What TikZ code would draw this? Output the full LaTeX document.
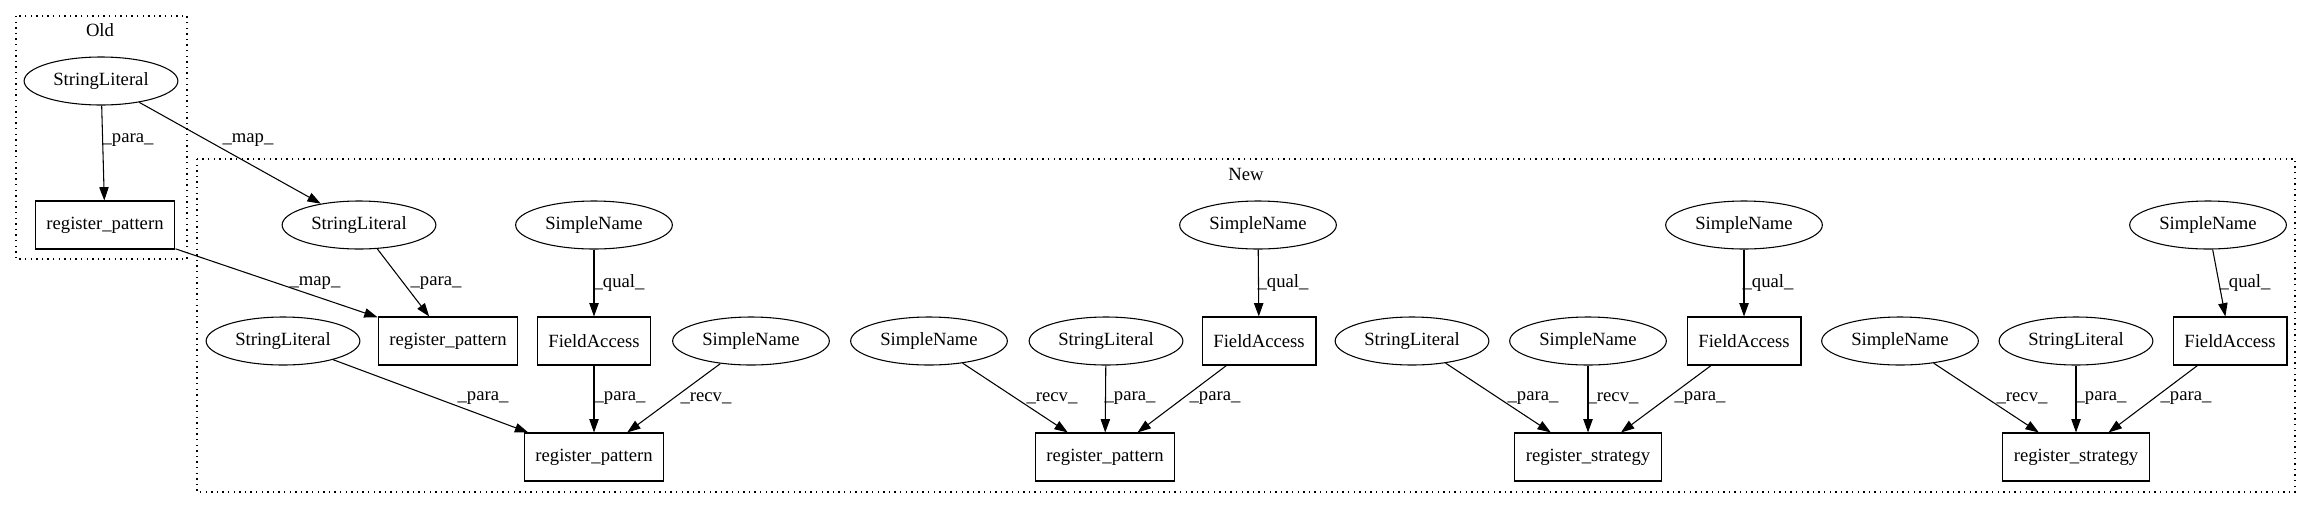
\documentclass[tikz,border=0pt]{standalone}
\usepackage{fontspec}
\setmainfont{Liberation Serif}
\usetikzlibrary{shapes.geometric,arrows.meta}
\begin{document}
\begin{tikzpicture}[x=0.75pt,y=-0.75pt,
	every node/.style={font=\fontsize{14pt}{16pt}\selectfont},
	ell/.style={draw,ellipse,line width=0.8pt,inner xsep=5pt,inner ysep=0pt,minimum height=36pt},
	box/.style={draw,rectangle,line width=0.8pt,inner xsep=8.5pt,minimum height=36pt},
	edge/.style={line width=0.8pt,-{Triangle[length=10pt,width=7pt]}},
	clust/.style={line width=0.8pt,dash pattern=on 1pt off 3.2pt},
	lbl/.style={inner sep=0pt}]
		\useasboundingbox (0,0) rectangle (2312,508);
		% clusters
		\draw[clust] (16,16) rectangle (187,259);
		\node[lbl] (old) at (100,30) {Old};
		\draw[clust] (197,159) rectangle (2295,492);
		\node[lbl] (new) at (1246,174) {New};
		% Old
		\node[ell] (oldlit) at (101,81) {StringLiteral};
		\node[box] (oldreg) at (105,225) {register\_pattern};
		% New, first group
		\node[ell] (litA) at (359,225) {StringLiteral};
		\node[box] (regA) at (448,341) {register\_pattern};
		\node[ell] (snB) at (594,225) {SimpleName};
		\node[box] (faB) at (594,341) {FieldAccess};
		\node[ell] (litB) at (283,341) {StringLiteral};
		\node[ell] (snBr) at (751,341) {SimpleName};
		\node[box] (regB) at (594,457) {register\_pattern};
		% second group
		\node[ell] (snC) at (1258,225) {SimpleName};
		\node[box] (faC) at (1259,341) {FieldAccess};
		\node[ell] (snCr) at (929,341) {SimpleName};
		\node[ell] (litC) at (1106,341) {StringLiteral};
		\node[box] (regC) at (1105,457) {register\_pattern};
		% third group
		\node[ell] (snD) at (1744,225) {SimpleName};
		\node[box] (faD) at (1744,341) {FieldAccess};
		\node[ell] (litD) at (1412,341) {StringLiteral};
		\node[ell] (snDr) at (1588,341) {SimpleName};
		\node[box] (regD) at (1588,457) {register\_strategy};
		% fourth group
		\node[ell] (snE) at (2208,225) {SimpleName};
		\node[box] (faE) at (2230,341) {FieldAccess};
		\node[ell] (snEr) at (1900,341) {SimpleName};
		\node[ell] (litE) at (2076,341) {StringLiteral};
		\node[box] (regE) at (2076,457) {register\_strategy};
		% edges
		\foreach \a/\b in {oldlit/oldreg,oldlit/litA,oldreg/regA,litA/regA,snB/faB,litB/regB,faB/regB,snBr/regB,
			snCr/regC,litC/regC,faC/regC,snC/faC,litD/regD,snDr/regD,faD/regD,snD/faD,
			snEr/regE,litE/regE,faE/regE,snE/faE}
		\draw[edge] (\a) -- (\b);
		% edge labels
		\foreach \n/\x/\y/\t in {l1/128/140/para,l2/248/140/map,l3/315/283/map,l4/436/283/para,l5/619/283/qual,
			l6/483/398/para,l7/620/398/para,l8/706/398/recv,l9/1052/398/recv,l10/1130/398/para,
			l11/1215/398/para,l12/1283/283/qual,l13/1533/398/para,l14/1613/398/recv,l15/1700/398/para,
			l16/1768/283/qual,l17/2022/398/recv,l18/2101/398/para,l19/2186/398/para,l20/2245/283/qual}
		\node[lbl] (\n) at (\x,\y) {\_\t\_};
\end{tikzpicture}
\end{document}
